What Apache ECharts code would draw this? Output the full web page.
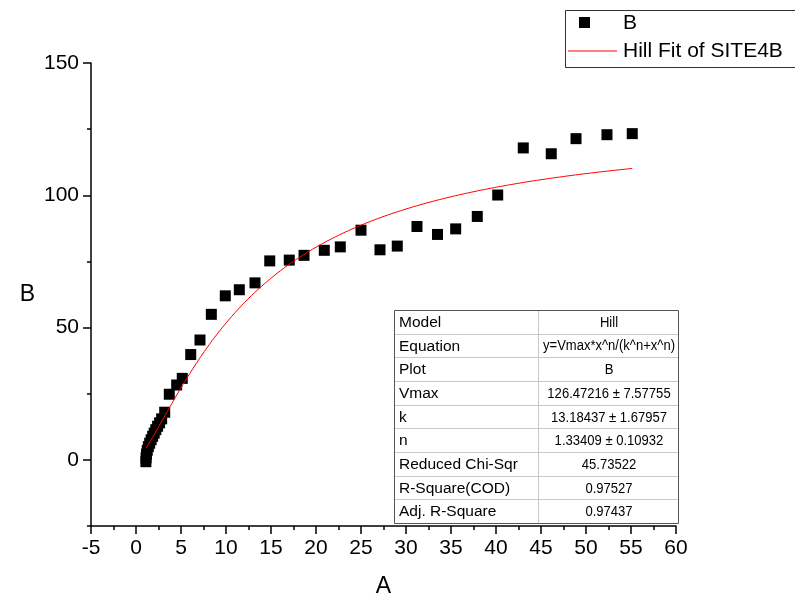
<!DOCTYPE html>
<html><head><meta charset="utf-8">
<script src="https://cdn.jsdelivr.net/npm/echarts@6/dist/echarts.min.js"></script>
<style>html,body{margin:0;padding:0;background:#fff}#c{width:795px;height:603px}</style>
</head><body><div id="c"></div>
<script>
// ---- data ----
const xData = [1.10, 1.12, 1.17, 1.25, 1.37, 1.52, 1.68, 1.85, 2.02, 2.20, 2.40, 2.62, 2.85, 3.19,
  3.70, 4.52, 5.14, 6.08, 7.11, 8.37, 9.92, 11.48, 13.22, 14.86, 17.03, 18.67, 20.92, 22.70,
  25.00, 27.11, 29.03, 31.22, 33.50, 35.52, 37.92, 40.19, 43.03, 46.14, 48.89, 52.33, 55.14];
const yData = [-0.7, 0.8, 2.2, 3.6, 5.0, 6.3, 7.6, 8.9, 10.1, 11.4, 12.7, 14.0, 15.5, 18.0,
  24.8, 28.3, 30.8, 39.8, 45.3, 55.0, 62.0, 64.3, 66.9, 75.2, 75.5, 77.3, 79.2, 80.5,
  86.8, 79.4, 80.8, 88.2, 85.2, 87.3, 92.0, 100.1, 117.9, 115.7, 121.4, 122.9, 123.3];
const seriesName = 'B';
const fitName = 'Hill Fit of SITE4B';
// Hill fit parameters as reported in the chart's table
const fitVmax = 126.47216, fitK = 13.18437, fitN = 1.33409;
const fitXStart = 1.1, fitXEnd = 55.14, fitSamples = 300;
const xAxisName = 'A', yAxisName = 'B';
const yMajorTicks = [0, 50, 100, 150];
const yMinorTicks = [-25, 25, 75, 125];
const tableLabels = ['Model', 'Equation', 'Plot', 'Vmax', 'k', 'n', 'Reduced Chi-Sqr', 'R-Square(COD)', 'Adj. R-Square'];
const tableValues = ['Hill', 'y=Vmax*x^n/(k^n+x^n)', 'B', '126.47216 ± 7.57755', '13.18437 ± 1.67957',
  '1.33409 ± 0.10932', '45.73522', '0.97527', '0.97437'];

// ---- build ----
const FONT = 'Arial, "Liberation Sans", sans-serif';
const scatterData = xData.map((x, i) => [x, yData[i]]);
const fitData = [];
for (let i = 0; i <= fitSamples; i++) {
  const x = fitXStart + (fitXEnd - fitXStart) * i / fitSamples;
  const xn = Math.pow(x, fitN);
  fitData.push([x, fitVmax * xn / (Math.pow(fitK, fitN) + xn)]);
}

const chart = echarts.init(document.getElementById('c'), null, {renderer: 'canvas'});

// table graphic
const tX = 394, tY = 310, tW = 284, tH = 213, colX = 538;
const rowH = tH / tableLabels.length;
const tableEls = [];
tableEls.push({type: 'rect', shape: {x: tX, y: tY, width: tW, height: tH}, style: {fill: '#fff', stroke: null}, z: 10});
for (let i = 1; i < tableLabels.length; i++) {
  const y = Math.round(tY + i * rowH) + 0.5;
  tableEls.push({type: 'line', shape: {x1: tX, y1: y, x2: tX + tW, y2: y}, style: {stroke: '#c8c8c8', lineWidth: 1}, z: 11});
}
tableEls.push({type: 'line', shape: {x1: colX + 0.5, y1: tY, x2: colX + 0.5, y2: tY + tH}, style: {stroke: '#c8c8c8', lineWidth: 1}, z: 11});
tableEls.push({type: 'rect', shape: {x: tX + 0.5, y: tY + 0.5, width: tW, height: tH}, style: {fill: null, stroke: '#555', lineWidth: 1}, z: 12});
tableLabels.forEach((lab, i) => {
  const cy = tY + (i + 0.5) * rowH + 1;
  tableEls.push({type: 'text', x: tX + 5, y: cy, style: {text: lab, font: '15.5px ' + FONT, fill: '#000', textAlign: 'left', textVerticalAlign: 'middle'}, z: 13});
  const cx = (colX + tX + tW) / 2 + 1;
  tableEls.push({type: 'text', x: cx, y: cy, scaleX: i === 1 ? 0.93 : 0.9,
    style: {text: tableValues[i], font: (i === 1 ? '14px ' : '14.5px ') + FONT, fill: '#000', textAlign: 'center', textVerticalAlign: 'middle'}, z: 13});
});

// legend graphic
const legendEls = [
  {type: 'rect', shape: {x: 565.5, y: 10.5, width: 240, height: 57}, style: {fill: '#fff', stroke: '#333', lineWidth: 1}, z: 10},
  {type: 'rect', shape: {x: 579, y: 17, width: 11, height: 11}, style: {fill: '#000'}, z: 11},
  {type: 'text', x: 623, y: 23, style: {text: seriesName, font: '21px ' + FONT, fill: '#000', textAlign: 'left', textVerticalAlign: 'middle'}, z: 11},
  {type: 'line', shape: {x1: 568, y1: 51, x2: 617, y2: 51}, style: {stroke: '#ff0000', lineWidth: 1}, z: 11},
  {type: 'text', x: 623, y: 51, style: {text: fitName, font: '21px ' + FONT, fill: '#000', textAlign: 'left', textVerticalAlign: 'middle'}, z: 11}
];

const axisLineStyle = {color: '#000', width: 1.5};
chart.setOption({
  animation: false,
  backgroundColor: '#fff',
  grid: {left: 91, right: 119, top: 63, bottom: 74.5, containLabel: false},
  xAxis: {
    type: 'value', min: -5, max: 60, interval: 5,
    name: xAxisName, nameLocation: 'middle', nameGap: 49,
    nameTextStyle: {fontSize: 23, fontFamily: FONT, color: '#000'},
    axisLine: {show: true, onZero: false, lineStyle: axisLineStyle},
    axisTick: {show: true, inside: false, length: 8, lineStyle: {color: '#000', width: 1.5}},
    minorTick: {show: true, splitNumber: 2, length: 4, lineStyle: {color: '#000', width: 1.5}},
    axisLabel: {fontSize: 21, fontFamily: FONT, color: '#000', margin: 12},
    splitLine: {show: false}, minorSplitLine: {show: false}
  },
  yAxis: [{
    type: 'value', min: -25, max: 150,
    name: yAxisName, nameLocation: 'middle', nameGap: 56, nameRotate: 0,
    nameTextStyle: {fontSize: 23, fontFamily: FONT, color: '#000'},
    axisLine: {show: true, onZero: false, lineStyle: axisLineStyle},
    axisTick: {show: true, length: 8, customValues: yMajorTicks, lineStyle: {color: '#000', width: 1.5}},
    axisLabel: {fontSize: 21, fontFamily: FONT, color: '#000', margin: 12, customValues: yMajorTicks},
    splitLine: {show: false}
  }, {
    type: 'value', min: -25, max: 150, position: 'left',
    axisLine: {show: false, onZero: false},
    axisTick: {show: true, length: 4, customValues: yMinorTicks, lineStyle: {color: '#000', width: 1.5}},
    axisLabel: {show: false},
    splitLine: {show: false}
  }],
  series: [{
    name: seriesName, type: 'scatter', data: scatterData, symbol: 'rect', symbolSize: 11,
    itemStyle: {color: '#000', opacity: 1}, z: 3
  }, {
    name: fitName, type: 'line', data: fitData, showSymbol: false, symbol: 'none', smooth: false,
    lineStyle: {color: '#ff0000', width: 1}, z: 4
  }],
  graphic: [...legendEls, ...tableEls]
});
</script></body></html>
